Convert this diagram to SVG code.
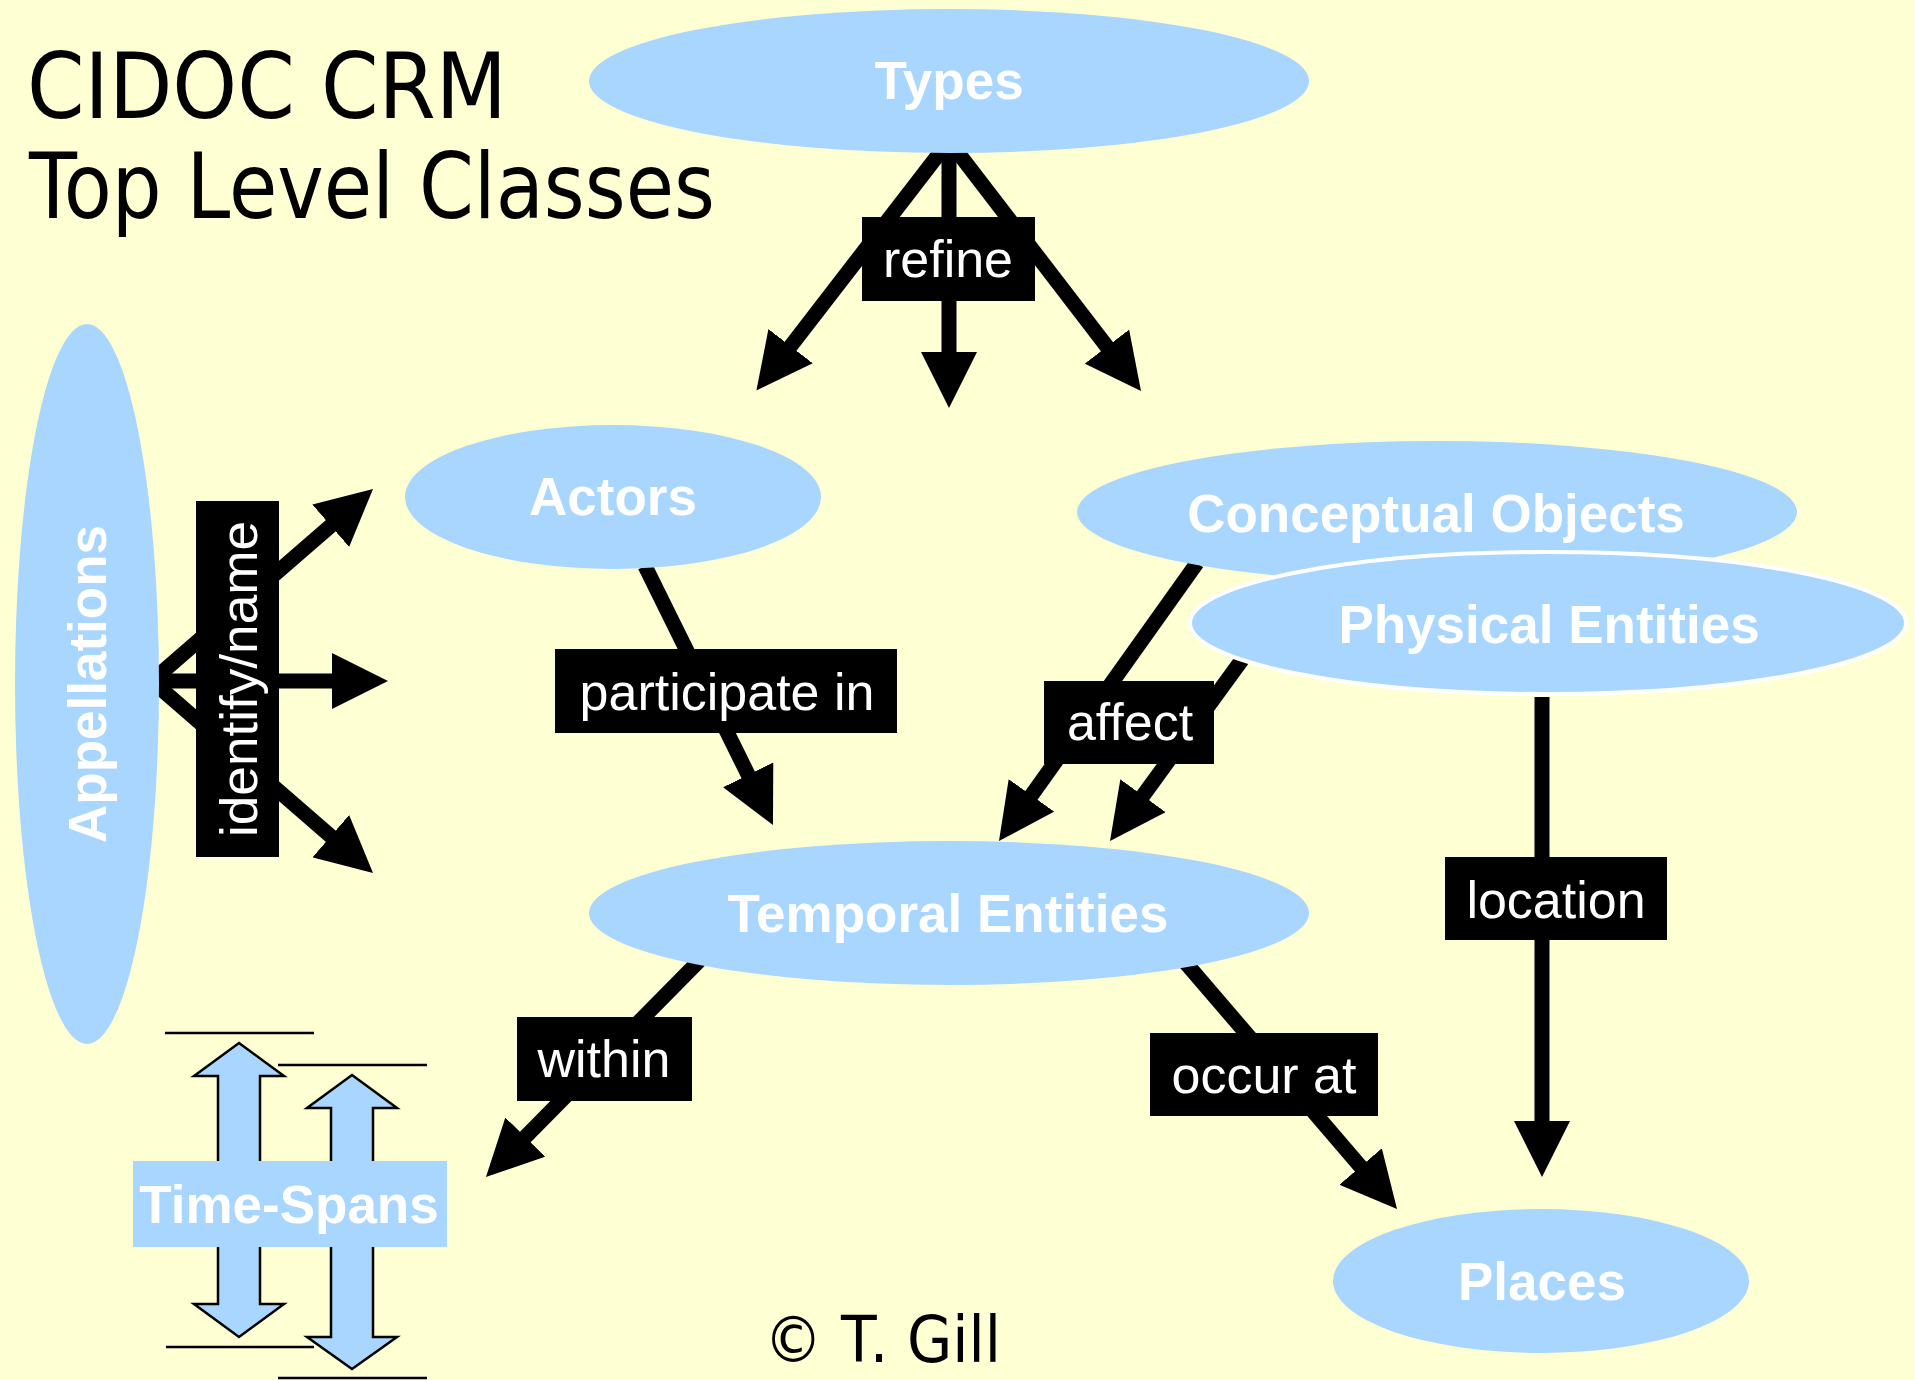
<svg xmlns="http://www.w3.org/2000/svg" width="1915" height="1380" viewBox="0 0 1915 1380">
<style>
.node{fill:#a8d6fe}
.ntext{font-family:"Liberation Sans",Arial,sans-serif;font-weight:bold;font-size:53px;fill:#ffffff;text-anchor:middle}
.conn{stroke:#000;stroke-width:15;fill:none;marker-end:url(#ah)}
.lbox{fill:#000}
.ltext{font-family:"Liberation Sans",Arial,sans-serif;font-size:52px;fill:#ffffff;text-anchor:middle}
.title{font-family:"DejaVu Sans",sans-serif;fill:#000}
.tick{stroke:#000;stroke-width:2.5}
.barrow{fill:#a8d6fe;stroke:#000;stroke-width:2.5;stroke-linejoin:miter}
</style>
<defs>
<marker id="ah" markerUnits="userSpaceOnUse" viewBox="0 0 56 56" markerWidth="56" markerHeight="56" refX="1" refY="28" orient="auto">
<path d="M0,0 L56,28 L0,56 Z" fill="#000"/>
</marker>
</defs>
<rect x="0" y="0" width="1915" height="1380" fill="#ffffd4"/>
<g id="title">
<text class="title" x="27" y="118" font-size="90" textLength="480" lengthAdjust="spacingAndGlyphs">CIDOC CRM</text>
<text class="title" x="29" y="218" font-size="90" textLength="686" lengthAdjust="spacingAndGlyphs">Top Level Classes</text>
</g>
<g id="connectors">
<path class="conn" d="M942,150 L790,347"/>
<path class="conn" d="M949,150 L949,353"/>
<path class="conn" d="M956,150 L1107.5,347.4"/>
<path class="conn" d="M152,681 L331.5,525.1"/>
<path class="conn" d="M152,681 L333,681"/>
<path class="conn" d="M152,681 L331.5,836.9"/>
<path class="conn" d="M645,566 L748.6,775.7"/>
<path class="conn" d="M1197,563 L1030.9,796.2"/>
<path class="conn" d="M1244,657 L1142.4,796.5"/>
<path class="conn" d="M700,960 L524.6,1137.8"/>
<path class="conn" d="M1185,962 L1361.2,1167.3"/>
<path class="conn" d="M1542,697 L1542,1122"/>
<g id="label-refine"><rect class="lbox" x="862" y="217" width="173" height="84"/><text class="ltext" x="948" y="277">refine</text></g>
<g id="label-identify"><rect class="lbox" x="196" y="501" width="83" height="356"/><text class="ltext" x="257" y="679" transform="rotate(-90 257 679)" dx="0" textLength="316" lengthAdjust="spacingAndGlyphs" style="text-anchor:middle"><tspan x="257" y="679">identify/name</tspan></text></g>
<g id="label-participate"><rect class="lbox" x="555" y="649" width="342" height="84"/><text class="ltext" x="727" y="710">participate in</text></g>
<g id="label-affect"><rect class="lbox" x="1044" y="681" width="170" height="83"/><text class="ltext" x="1130" y="740">affect</text></g>
<g id="label-location"><rect class="lbox" x="1445" y="857" width="222" height="83"/><text class="ltext" x="1556" y="918">location</text></g>
<g id="label-within"><rect class="lbox" x="517" y="1017" width="175" height="84"/><text class="ltext" x="604" y="1077">within</text></g>
<g id="label-occur"><rect class="lbox" x="1150" y="1033" width="228" height="83"/><text class="ltext" x="1264" y="1093">occur at</text></g>
</g>
<g id="types"><ellipse class="node" cx="949" cy="81" rx="360" ry="72"/><text class="ntext" x="949" y="99">Types</text></g>
<g id="actors"><ellipse class="node" cx="613" cy="497" rx="208" ry="72"/><text class="ntext" x="613" y="515">Actors</text></g>
<g id="conceptual-objects"><ellipse class="node" cx="1437" cy="512" rx="360" ry="71"/><text class="ntext" x="1436" y="532">Conceptual Objects</text></g>
<g id="physical-entities"><ellipse class="node" cx="1548" cy="623" rx="358" ry="71" stroke="#ffffff" stroke-width="4"/><text class="ntext" x="1549" y="643">Physical Entities</text></g>
<g id="temporal-entities"><ellipse class="node" cx="949" cy="913" rx="360" ry="72"/><text class="ntext" x="948" y="932">Temporal Entities</text></g>
<g id="places"><ellipse class="node" cx="1541" cy="1281" rx="208" ry="72"/><text class="ntext" x="1542" y="1300">Places</text></g>
<g id="appellations"><ellipse class="node" cx="87" cy="684" rx="72" ry="360"/><text class="ntext" x="106" y="684" transform="rotate(-90 106 684)">Appellations</text></g>
<g id="time-spans">
<line class="tick" x1="165" y1="1033" x2="314" y2="1033"/>
<line class="tick" x1="166" y1="1347" x2="314" y2="1347"/>
<line class="tick" x1="278" y1="1065" x2="427" y2="1065"/>
<line class="tick" x1="278" y1="1378" x2="427" y2="1378"/>
<path class="barrow" d="M239,1043 L284,1076 L260,1076 L260,1304 L284,1304 L239,1337 L194,1304 L218,1304 L218,1076 L194,1076 Z"/>
<path class="barrow" d="M352,1075 L397,1108 L373,1108 L373,1337 L397,1337 L352,1369 L307,1337 L331,1337 L331,1108 L307,1108 Z"/>
<rect class="node" x="133" y="1161" width="314" height="86"/>
<text class="ntext" x="289" y="1223">Time-Spans</text>
</g>
<g id="copyright">
<text class="title" x="764" y="1362" font-size="64" textLength="237" lengthAdjust="spacingAndGlyphs">© T. Gill</text>
</g>
</svg>
